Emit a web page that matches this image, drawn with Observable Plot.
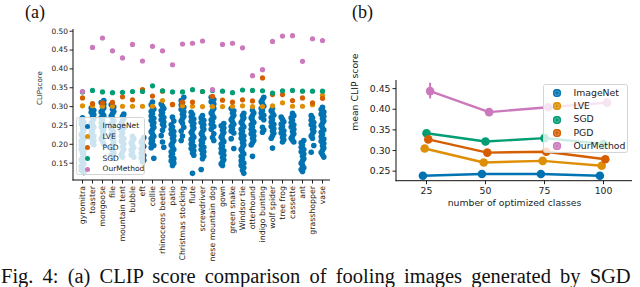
<!DOCTYPE html>
<html><head><meta charset="utf-8">
<script src="https://cdn.jsdelivr.net/npm/d3@7"></script>
<script src="https://cdn.jsdelivr.net/npm/@observablehq/plot@0.6"></script>
<style>
html,body{margin:0;padding:0;background:#fff;overflow:hidden}
#root{position:relative;width:640px;height:287px;overflow:hidden;font-family:"DejaVu Sans",sans-serif;color:#222}
.plot{position:absolute;top:0}
.legend{position:absolute;background:rgba(255,255,255,0.8);border:1px solid #d4d4d4;border-radius:2.5px;box-sizing:border-box}
.item{position:absolute;white-space:nowrap;line-height:1}
.sw{position:absolute;border-radius:50%}
.tag{position:absolute;font-family:"Liberation Serif",serif;font-size:18px;line-height:1;color:#111}
.caption{position:absolute;left:1px;top:266px;font-family:"Liberation Serif",serif;font-size:20.5px;line-height:1;white-space:nowrap;color:#111;word-spacing:4px}
</style></head><body><div id="root"></div>
<script>
// ---------------- data ----------------
const categories = ["gyromitra","toaster","mongoose","file","mountain tent","bubble","eft","collie","rhinoceros beetle","patio","Christmas stocking","flute","screwdriver","nese mountain dog","gown","green snake","Windsor tie","otterhound","indigo bunting","wolf spider","tree frog","cassette","ant","grasshopper","vase"];
const seriesNames = ["ImageNet","LVE","PGD","SGD","OurMethod"];
const imagenet = [
 [0.270,0.265,0.259,0.254,0.248,0.243,0.237,0.231,0.226,0.220,0.215,0.209,0.203,0.198,0.192,0.187,0.181,0.176,0.170,0.164,0.159,0.153,0.148,0.142,0.136,0.131,0.125],
 [0.296,0.290,0.285,0.279,0.273,0.268,0.262,0.256,0.251,0.245,0.239,0.234,0.228,0.222,0.216,0.210,0.204,0.199],
 [0.316,0.311,0.306,0.301,0.296,0.291,0.286,0.281,0.276,0.270,0.264,0.258,0.252,0.246,0.240,0.234,0.228,0.222,0.215,0.208,0.201],
 [0.305,0.299,0.293,0.287,0.281,0.275,0.269,0.262,0.255,0.248,0.241,0.234,0.227,0.220,0.213,0.206,0.199,0.192,0.185,0.178,0.171,0.165],
 [0.280,0.274,0.268,0.262,0.256,0.250,0.243,0.236,0.229,0.222,0.215,0.208,0.201,0.194,0.187,0.180,0.173,0.166],
 [0.221,0.215,0.209,0.203,0.197,0.191,0.185,0.179,0.172,0.166],
 [0.218,0.212,0.206,0.200,0.194,0.188,0.182,0.176,0.170,0.164,0.158,0.153],
 [0.312,0.305,0.299,0.293,0.287,0.281,0.275,0.269,0.263,0.257,0.251,0.245,0.239,0.233,0.227,0.221,0.215,0.209,0.203,0.197,0.191,0.163],
 [0.307,0.301,0.295,0.289,0.283,0.277,0.271,0.265,0.259,0.253,0.248,0.237,0.223,0.206,0.192],
 [0.272,0.262,0.252,0.246,0.240,0.234,0.228,0.222,0.216,0.210,0.204,0.198,0.192,0.186,0.180,0.174,0.168,0.162,0.156,0.150,0.144],
 [0.325,0.316,0.310,0.304,0.298,0.292,0.286,0.280,0.274,0.268,0.262,0.256,0.245,0.235,0.222,0.210],
 [0.285,0.279,0.273,0.267,0.261,0.255,0.249,0.243,0.237,0.231,0.225,0.219,0.213,0.207,0.201,0.195,0.189,0.183,0.177,0.171,0.123],
 [0.276,0.270,0.264,0.258,0.252,0.246,0.240,0.234,0.228,0.222,0.216,0.210,0.204,0.198,0.192,0.186,0.180,0.174,0.168,0.162,0.133],
 [0.325,0.319,0.313,0.307,0.301,0.295,0.289,0.283,0.277,0.271,0.265,0.259,0.253,0.247,0.240,0.228,0.218,0.210],
 [0.255,0.249,0.243,0.237,0.231,0.225,0.219,0.213,0.207,0.201,0.195,0.189,0.183,0.177,0.171,0.165,0.159,0.153,0.148,0.144],
 [0.295,0.289,0.283,0.277,0.271,0.265,0.259,0.253,0.247,0.241,0.235,0.230,0.215,0.189],
 [0.282,0.276,0.270,0.264,0.258,0.252,0.246,0.240,0.234,0.228,0.222,0.216,0.210,0.204,0.198,0.192,0.186,0.180,0.174,0.168,0.162,0.156,0.150,0.144,0.138,0.131,0.123],
 [0.290,0.283,0.276,0.270,0.264,0.258,0.252,0.246,0.240,0.234,0.228,0.222,0.216,0.210,0.204,0.198,0.168],
 [0.325,0.319,0.313,0.307,0.301,0.295,0.289,0.283,0.277,0.271,0.265,0.245,0.238,0.232],
 [0.295,0.289,0.283,0.277,0.271,0.265,0.259,0.253,0.247,0.241,0.235,0.229,0.223,0.216,0.190],
 [0.272,0.266,0.260,0.254,0.248,0.242,0.236,0.230,0.224,0.218,0.212,0.206],
 [0.282,0.276,0.270,0.264,0.258,0.252,0.246,0.240,0.234,0.228,0.222,0.216,0.211,0.206],
 [0.210,0.204,0.198,0.192,0.186,0.180,0.174,0.168,0.162,0.156,0.150,0.144,0.138,0.133,0.128],
 [0.276,0.270,0.264,0.258,0.252,0.246,0.240,0.234,0.228,0.222,0.216,0.197,0.179],
 [0.298,0.292,0.286,0.280,0.274,0.268,0.262,0.256,0.250,0.244,0.238,0.232,0.226,0.220,0.214,0.208,0.202,0.196,0.190,0.184,0.178,0.172,0.166]
];
const lve  = [0.302,0.302,0.301,0.301,0.301,0.301,0.301,0.301,0.316,0.305,0.302,0.301,0.300,0.300,0.300,0.301,0.302,0.300,0.300,0.302,0.310,0.301,0.301,0.305,0.330];
const pgd  = [0.323,0.308,0.310,0.311,0.326,0.318,0.345,0.328,0.341,0.306,0.312,0.312,0.340,0.327,0.317,0.312,0.318,0.315,0.376,0.332,0.332,0.316,0.323,0.310,0.322];
const sgd  = [0.339,0.343,0.339,0.337,0.338,0.340,0.340,0.355,0.342,0.339,0.339,0.345,0.340,0.343,0.341,0.337,0.344,0.343,0.342,0.336,0.342,0.343,0.341,0.341,0.341];
const ours = [0.340,0.457,0.482,0.448,0.429,0.465,0.421,0.460,0.448,0.411,0.466,0.468,0.474,0.345,0.465,0.468,0.456,0.382,0.398,0.473,0.487,0.488,0.420,0.480,0.475];
const leftTicks = [0.15,0.20,0.25,0.30,0.35,0.40,0.45,0.50];

const classCounts = [25,50,75,100];
const rightOrder = ["ImageNet","LVE","SGD","PGD","OurMethod"];
const meanImageNet = [0.239,0.243,0.243,0.239];
const meanLVE      = [0.305,0.271,0.275,0.263];
const meanSGD      = [0.342,0.322,0.330,0.316];
const meanPGD      = [0.327,0.295,0.297,0.279];
const meanOurs     = [0.444,0.393,0.405,0.416];
const oursLow      = [0.425,0.387,0.400,0.411];
const oursHigh     = [0.463,0.399,0.410,0.421];
const rightTicks = [0.25,0.30,0.35,0.40,0.45];

const colors = {ImageNet:"#0173b2", LVE:"#de8f05", PGD:"#d55e00", SGD:"#029e73", OurMethod:"#cc78bc"};

// ---------------- build ----------------
const root = document.getElementById("root");
const fmt = d3.format(".2f");

const lanePattern = [1,0,2,0,2,1,2,1,0,1,2,0];
const stripRows = [];
categories.forEach((c, i) => imagenet[i].forEach((v, k) => stripRows.push({cat: c, v, lane: lanePattern[(k + i) % lanePattern.length]})));
const single = arr => categories.map((c, i) => ({cat: c, v: arr[i]}));
const laneDx = [-1.3, 0, 1.3];

const left = Plot.plot({
  width: 335, height: 265,
  marginLeft: 73, marginRight: 5, marginTop: 29, marginBottom: 85,
  style: {fontFamily: "DejaVu Sans", fontSize: "7.6px", color: "#222", background: "transparent", overflow: "visible"},
  x: {type: "point", domain: categories, padding: 0.63},
  y: {domain: [0.104, 0.5045]},
  marks: [
    Plot.axisY({ticks: leftTicks, tickFormat: fmt, tickSize: 3.5, tickPadding: 2, label: null, fontSize: 7.4}),
    Plot.axisX({tickRotate: -90, tickSize: 3.5, tickPadding: 2, label: null, fontSize: 7.8}),
    ...laneDx.map((dx, j) => Plot.dot(stripRows.filter(d => d.lane === j), {x: "cat", y: "v", r: 2.8, fill: colors.ImageNet, dx})),
    Plot.dot(single(lve),  {x: "cat", y: "v", r: 2.6, fill: colors.LVE}),
    Plot.dot(single(pgd),  {x: "cat", y: "v", r: 2.6, fill: colors.PGD}),
    Plot.dot(single(sgd),  {x: "cat", y: "v", r: 2.6, fill: colors.SGD}),
    Plot.dot(single(ours), {x: "cat", y: "v", r: 2.6, fill: colors.OurMethod}),
    Plot.text(["CLIPscore"], {text: d => d, frameAnchor: "left", rotate: -90, dx: -34, fontSize: 7})
  ]
});
left.classList.add("plot");
left.style.left = "0px";
root.appendChild(left);

function spines(svg) {
  const [x0, x1] = svg.scale("x").range;
  const [y0, y1] = svg.scale("y").range;
  const g = d3.select(svg).append("g").attr("stroke", "#111").attr("stroke-width", 1);
  g.append("line").attr("x1", x0).attr("x2", x0).attr("y1", y0 + 0.5).attr("y2", y1);
  g.append("line").attr("x1", x0 - 0.5).attr("x2", x1).attr("y1", y0).attr("y2", y0);
}
spines(left);

// right panel
const meansBy = {ImageNet: meanImageNet, LVE: meanLVE, SGD: meanSGD, PGD: meanPGD, OurMethod: meanOurs};
const dodge = {ImageNet: -3.6, LVE: -1.8, SGD: 0, PGD: 1.8, OurMethod: 3.6};
const rightMarks = [];
rightOrder.forEach(s => {
  const rows = classCounts.map((n, i) => ({n, v: meansBy[s][i], lo: s === "OurMethod" ? oursLow[i] : null, hi: s === "OurMethod" ? oursHigh[i] : null}));
  if (s === "OurMethod") rightMarks.push(Plot.ruleX(rows, {x: "n", y1: "lo", y2: "hi", stroke: colors[s], strokeWidth: 2, dx: dodge[s]}));
  rightMarks.push(Plot.line(rows, {x: "n", y: "v", stroke: colors[s], strokeWidth: 2.4, dx: dodge[s]}));
  rightMarks.push(Plot.dot(rows, {x: "n", y: "v", r: 4.3, fill: colors[s], dx: dodge[s]}));
});
const right = Plot.plot({
  width: 300, height: 215,
  marginLeft: 56, marginRight: 8, marginTop: 80, marginBottom: 34.3,
  style: {fontFamily: "DejaVu Sans", fontSize: "9.3px", color: "#222", background: "transparent", overflow: "visible"},
  x: {type: "point", domain: classCounts, padding: 0.5},
  y: {domain: [0.2257, 0.4697]},
  marks: [
    Plot.axisY({ticks: rightTicks, tickFormat: fmt, tickSize: 3.5, tickPadding: 2.5, label: null}),
    Plot.axisX({tickSize: 3.5, tickPadding: 2.5, label: null}),
    ...rightMarks,
    Plot.text(["number of optimized classes"], {text: d => d, frameAnchor: "bottom", lineAnchor: "middle", dy: 22.3}),
    Plot.text(["mean CLIP score"], {text: d => d, frameAnchor: "left", rotate: -90, dx: -41})
  ]
});
right.classList.add("plot");
right.style.left = "340px";
root.appendChild(right);
spines(right);

// legends
function legend(names, box, opt) {
  const el = document.createElement("div");
  el.className = "legend";
  Object.assign(el.style, {left: box.x + "px", top: box.y + "px", width: box.w + "px", height: box.h + "px"});
  names.forEach((n, i) => {
    const cy = opt.y0 + opt.step * i;
    const sw = document.createElement("div");
    sw.className = "sw";
    Object.assign(sw.style, {left: (opt.mx - opt.d / 2) + "px", top: (cy - opt.d / 2) + "px", width: opt.d + "px", height: opt.d + "px", background: colors[n]});
    if (opt.ring) sw.style.boxShadow = "inset 0 0 0 1.4px " + colors[n] + ", inset 0 0 0 2.2px rgba(255,255,255,0.35)";
    el.appendChild(sw);
    const t = document.createElement("div");
    t.className = "item";
    t.textContent = n;
    Object.assign(t.style, {left: opt.tx + "px", top: (cy - opt.fs * 0.55) + "px", fontSize: opt.fs + "px"});
    el.appendChild(t);
  });
  root.appendChild(el);
}
legend(seriesNames, {x: 76, y: 117, w: 69, h: 58}, {y0: 8, step: 10.9, mx: 10.5, d: 5, tx: 25.5, fs: 7.5});
legend(rightOrder, {x: 543, y: 84, w: 85, h: 69}, {y0: 7.7, step: 13.4, mx: 12.5, d: 8, tx: 29.5, fs: 9.3, ring: true});

// panel tags & caption
[["(a)", 25, 3], ["(b)", 352, 3]].forEach(([t, x, y]) => {
  const el = document.createElement("div");
  el.className = "tag"; el.textContent = t;
  el.style.left = x + "px"; el.style.top = y + "px";
  root.appendChild(el);
});
const cap = document.createElement("div");
cap.className = "caption";
cap.textContent = "Fig. 4: (a) CLIP score comparison of fooling images generated by SGD";
root.appendChild(cap);
</script></body></html>
